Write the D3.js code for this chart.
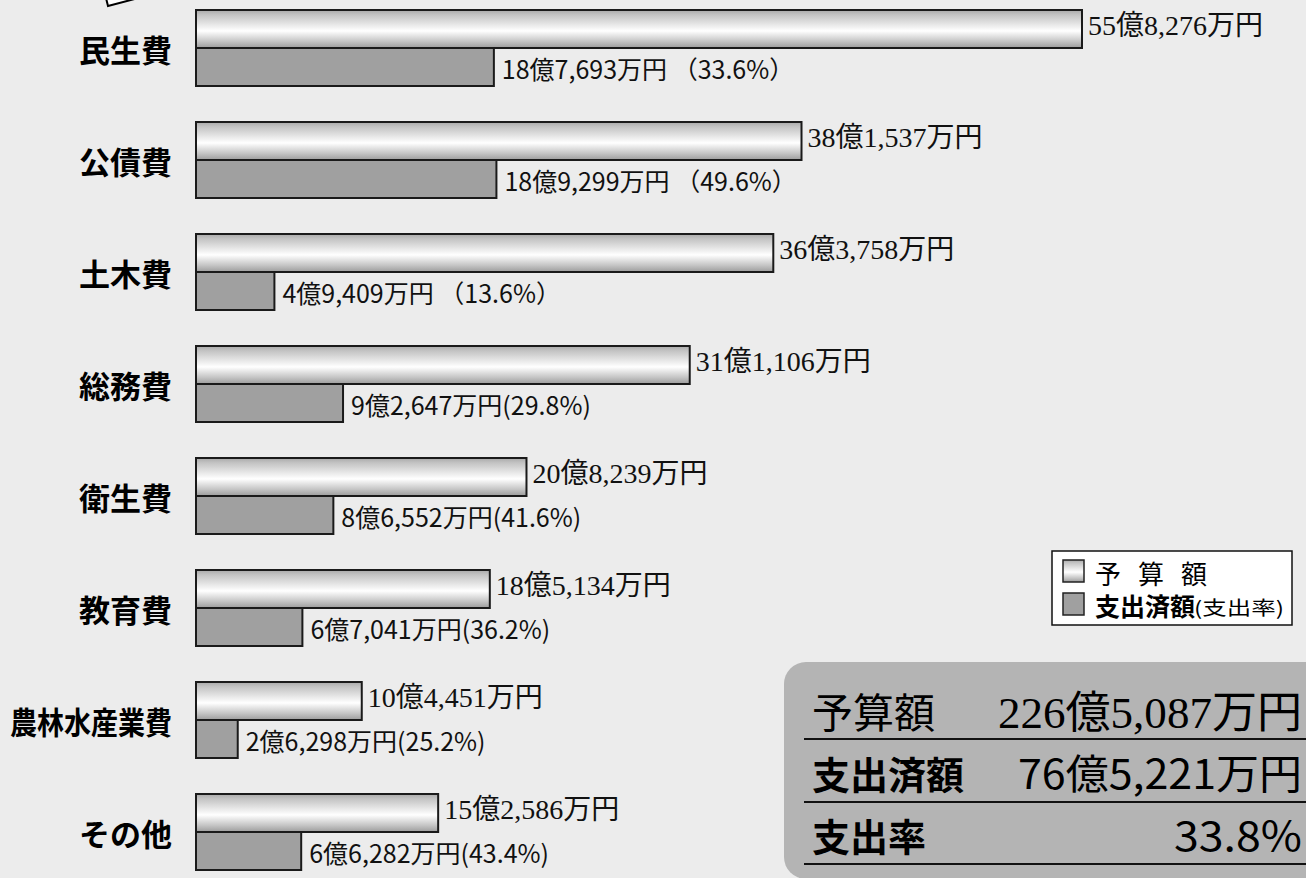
<!DOCTYPE html>
<html>
<head>
<meta charset="utf-8">
<script src="https://cdn.jsdelivr.net/npm/d3@7"></script>
<style>
  body { margin: 0; background: #ececec; }
  svg { display: block; }
</style>
</head>
<body>
<div id="chart"></div>
<script>
// data (units: 万円)
var categories = ["民生費", "公債費", "土木費", "総務費", "衛生費", "教育費", "農林水産業費", "その他"];
var budget = [558276, 381537, 363758, 311106, 208239, 185134, 104451, 152586];
var spent = [187693, 189299, 49409, 92647, 86552, 67041, 26298, 66282];
var rates = [33.6, 49.6, 13.6, 29.8, 41.6, 36.2, 25.2, 43.4];
var legendLabels = ["予 算 額", "支出済額", "(支出率)"];
var summaryLabels = ["予算額", "支出済額", "支出率"];
var summaryValues = ["226億5,087万円", "76億5,221万円", "33.8%"];

var W = 1306, H = 878;
var serif = "'Liberation Serif', 'DejaVu Serif', 'Noto Sans CJK JP', serif";
var sans = "'Noto Sans CJK JP', 'Noto Sans', sans-serif";

var svg = d3.select("#chart").append("svg")
  .attr("width", W).attr("height", H);

// gradient for budget bars
var defs = svg.append("defs");
var grad = defs.append("linearGradient").attr("id", "silver")
  .attr("x1", 0).attr("y1", 0).attr("x2", 0).attr("y2", 1);
[[0, "#a9a9a9"], [0.12, "#c2c2c2"], [0.55, "#ffffff"], [0.82, "#c6c6c6"], [1, "#9c9c9c"]]
  .forEach(function (s) {
    grad.append("stop").attr("offset", s[0]).attr("stop-color", s[1]);
  });

// little note corner at top-left
svg.append("path")
  .attr("d", "M105,-6 L108,6 L146,-4 Z")
  .attr("fill", "#fff").attr("stroke", "#000").attr("stroke-width", 2);

// scales
var x = d3.scaleLinear().domain([0, d3.max(budget)]).range([196, 1082]);
var y = d3.scaleBand().domain(categories).range([10, 870]).paddingInner(36 / 112).paddingOuter(0);
var half = y.bandwidth() / 2;

function fmt(v) {
  var oku = Math.floor(v / 10000), man = v % 10000;
  return oku + "億" + d3.format(",")(man) + "万円";
}

var rows = svg.selectAll("g.row").data(categories).enter().append("g")
  .attr("class", "row")
  .attr("transform", function (d) { return "translate(0," + y(d) + ")"; });

rows.append("text")
  .attr("x", 172).attr("y", half)
  .attr("text-anchor", "end").attr("dominant-baseline", "central")
  .style("font-family", sans).style("font-weight", 700).style("font-size", "31px")
  .attr("textLength", function (d) { return d.length > 3 ? 162 : null; })
  .attr("lengthAdjust", "spacingAndGlyphs")
  .text(function (d) { return d; });

rows.append("rect")
  .attr("x", x(0)).attr("y", 0)
  .attr("width", function (d, i) { return x(budget[i]) - x(0); })
  .attr("height", half)
  .attr("fill", "url(#silver)").attr("stroke", "#1a1a1a").attr("stroke-width", 2);

rows.append("rect")
  .attr("x", x(0)).attr("y", half)
  .attr("width", function (d, i) { return x(spent[i]) - x(0); })
  .attr("height", half)
  .attr("fill", "#a0a0a0").attr("stroke", "#1a1a1a").attr("stroke-width", 2);

rows.append("text")
  .attr("x", function (d, i) { return x(budget[i]) + 6; })
  .attr("y", half / 2 - 4)
  .attr("dominant-baseline", "central")
  .style("font-family", serif).style("font-size", "28px").style("fill", "#111")
  .text(function (d, i) { return fmt(budget[i]); });

rows.append("text")
  .attr("x", function (d, i) { return x(spent[i]) + 8; })
  .attr("y", half * 1.5 + 1)
  .attr("dominant-baseline", "central")
  .style("font-family", sans).style("font-weight", 400).style("font-size", "25px").style("fill", "#111")
  .text(function (d, i) {
    return fmt(spent[i]) + (i < 3 ? " （" + rates[i] + "%）" : "(" + rates[i] + "%)");
  });

// legend
var lg = svg.append("g").attr("transform", "translate(1052,551)");
lg.append("rect").attr("width", 240).attr("height", 74)
  .attr("fill", "#fff").attr("stroke", "#111").attr("stroke-width", 1.5);
lg.append("rect").attr("x", 11).attr("y", 9).attr("width", 21).attr("height", 22)
  .attr("fill", "url(#silver)").attr("stroke", "#222").attr("stroke-width", 1.5);
lg.append("rect").attr("x", 11).attr("y", 42).attr("width", 21).attr("height", 22)
  .attr("fill", "#a0a0a0").attr("stroke", "#222").attr("stroke-width", 1.5);
lg.append("text").attr("x", 43).attr("y", 33)
  .attr("textLength", 112).attr("lengthAdjust", "spacing")
  .style("font-family", serif).style("font-size", "26px")
  .text(legendLabels[0]);
lg.append("text").attr("x", 43).attr("y", 65)
  .style("font-family", sans).style("font-weight", 700).style("font-size", "25px")
  .text(legendLabels[1]);
lg.append("text").attr("x", 142).attr("y", 64)
  .attr("textLength", 90).attr("lengthAdjust", "spacingAndGlyphs")
  .style("font-family", sans).style("font-weight", 400).style("font-size", "19px")
  .text(legendLabels[2]);

// summary box
var sb = svg.append("g");
sb.append("rect").attr("x", 784).attr("y", 662).attr("width", 600).attr("height", 217)
  .attr("rx", 22).attr("fill", "#b4b4b4");
var lineY = [739, 802, 864];
var baseY = [728, 789, 851];
var valueLen = [304, 284, 128];
lineY.forEach(function (ly) {
  sb.append("line").attr("x1", 804).attr("x2", 1306).attr("y1", ly).attr("y2", ly)
    .attr("stroke", "#111").attr("stroke-width", 2);
});
summaryLabels.forEach(function (t, i) {
  sb.append("text").attr("x", 812).attr("y", baseY[i])
    .style("font-family", i === 0 ? serif : sans)
    .style("font-weight", i === 0 ? 400 : 700)
    .style("font-size", i === 0 ? "41px" : "38px")
    .text(t);
  sb.append("text").attr("x", 1302).attr("y", baseY[i])
    .attr("text-anchor", "end")
    .attr("textLength", valueLen[i]).attr("lengthAdjust", "spacingAndGlyphs")
    .style("font-family", i === 0 ? serif : sans)
    .style("font-weight", 400)
    .style("font-size", i === 0 ? "44px" : "41px")
    .text(summaryValues[i]);
});
</script>
</body>
</html>
